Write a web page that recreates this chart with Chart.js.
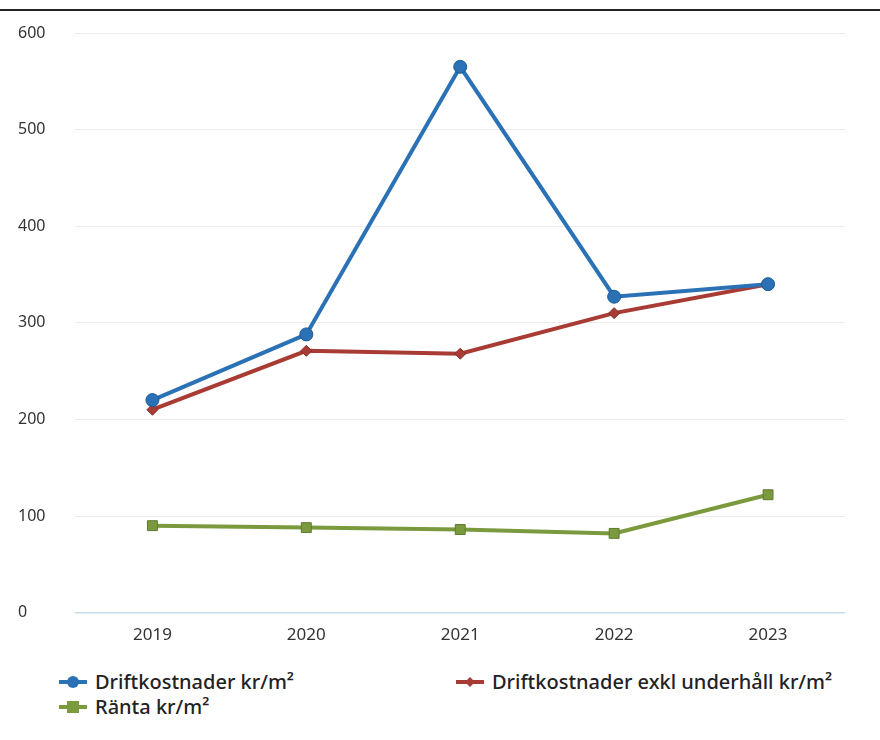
<!DOCTYPE html>
<html lang="sv">
<head>
<meta charset="utf-8">
<script src="https://cdn.jsdelivr.net/npm/chart.js@4.4.1/dist/chart.umd.min.js"></script>
<style>
  html, body { margin: 0; padding: 0; background: #fff; }
  body { width: 880px; height: 740px; position: relative; overflow: hidden; font-family: "Noto Sans", sans-serif; }
  .topline { position: absolute; left: 0; top: 9px; width: 880px; height: 2px; background: #222; }
  .chart-box { position: absolute; left: 0; top: 0; width: 880px; height: 660px; }
  .legend { position: absolute; left: 0; top: 668px; width: 880px; font-size: 20px; font-weight: 500; color: #222; }
  .legend-item { position: absolute; display: flex; align-items: center; white-space: nowrap; }
  .legend-item svg { margin-right: 7px; }
</style>
</head>
<body>
<div class="topline"></div>
<div class="chart-box"><canvas id="chart"></canvas></div>
<div class="legend" id="legend"></div>
<script>
// Data
const years = ['2019', '2020', '2021', '2022', '2023'];
const driftkostnader = [220, 288, 565, 327, 340];
const driftExklUnderhall = [210, 271, 268, 310, 340];
const ranta = [90, 88, 86, 82, 122];
const yTicks = [0, 100, 200, 300, 400, 500, 600];

const seriesInfo = [
  { label: 'Driftkostnader kr/m²', data: driftkostnader, color: '#2a72b5', border: '#1d5a93', point: 'circle', radius: 6.5 },
  { label: 'Driftkostnader exkl underhåll kr/m²', data: driftExklUnderhall, color: '#a83b34', border: '#86302a', point: 'rectRot', radius: 5.5 },
  { label: 'Ränta kr/m²', data: ranta, color: '#7b9a3e', border: '#5e7a2c', point: 'rect', radius: 7 }
];

const chart = new Chart(document.getElementById('chart'), {
  type: 'line',
  data: {
    labels: years,
    datasets: seriesInfo.map(s => ({
      label: s.label,
      data: s.data,
      borderColor: s.color,
      backgroundColor: s.color,
      pointBackgroundColor: s.color,
      pointBorderColor: s.border,
      pointBorderWidth: 1,
      pointStyle: s.point,
      pointRadius: s.radius,
      borderWidth: 4,
      tension: 0
    }))
  },
  options: {
    responsive: true,
    maintainAspectRatio: false,
    animation: false,
    layout: { padding: { left: 18, right: 35, top: 33, bottom: 11 } },
    plugins: { legend: { display: false }, tooltip: { enabled: false } },
    scales: {
      x: {
        offset: true,
        grid: { display: false },
        border: { display: false },
        ticks: { color: '#333', font: { family: 'Noto Sans', size: 17 }, padding: 4 }
      },
      y: {
        min: 0,
        max: 600,
        afterBuildTicks: axis => { axis.ticks = yTicks.map(v => ({ value: v })); },
        grid: {
          color: ctx => ctx.tick && ctx.tick.value === 0 ? '#c7dbea' : '#ececec',
          lineWidth: ctx => ctx.tick && ctx.tick.value === 0 ? 1.5 : 1,
          drawTicks: false
        },
        border: { display: false },
        ticks: { color: '#333', font: { family: 'Noto Sans', size: 16 }, padding: 15, crossAlign: 'far' }
      }
    }
  }
});

// HTML legend
const legendPos = [
  { left: 58, top: 0 },
  { left: 455, top: 0 },
  { left: 58, top: 25 }
];
const legendEl = document.getElementById('legend');
seriesInfo.forEach((s, i) => {
  let marker;
  if (s.point === 'circle') marker = `<circle cx="15" cy="10" r="6" fill="${s.color}"/>`;
  else if (s.point === 'rectRot') marker = `<polygon points="15,5 20,10 15,15 10,10" fill="${s.color}"/>`;
  else marker = `<rect x="9" y="4" width="12" height="12" fill="${s.color}"/>`;
  const item = document.createElement('div');
  item.className = 'legend-item';
  item.style.left = legendPos[i].left + 'px';
  item.style.top = legendPos[i].top + 'px';
  item.innerHTML = `<svg width="30" height="20"><line x1="1" y1="10" x2="29" y2="10" stroke="${s.color}" stroke-width="4"/>${marker}</svg><span>${s.label}</span>`;
  legendEl.appendChild(item);
});
</script>
</body>
</html>
